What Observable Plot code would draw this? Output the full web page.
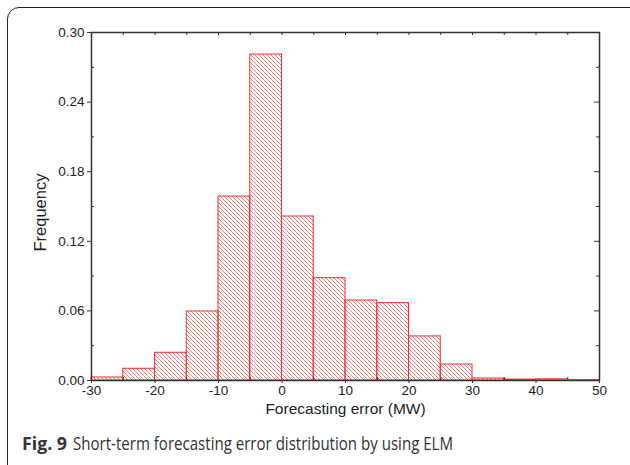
<!DOCTYPE html>
<html><head><meta charset="utf-8">
<script src="https://cdn.jsdelivr.net/npm/d3@7"></script>
<script src="https://cdn.jsdelivr.net/npm/@observablehq/plot@0.6"></script>
<style>
body{margin:0;background:#fff;}
#wrap{position:relative;width:630px;height:465px;overflow:hidden;}
#border{position:absolute;left:7px;top:7px;width:640px;height:480px;border:1.7px solid #222;border-radius:12px;}
#chart{position:absolute;left:0;top:0;}
#cap{position:absolute;left:0;top:422px;}
</style></head><body>
<div id="wrap"><div id="border"></div><div id="chart"></div>
<svg id="cap" width="630" height="40">
<text x="22" y="28" fill="#333" font-family="Open Sans, Noto Sans, sans-serif" font-size="18" font-weight="bold" textLength="45" lengthAdjust="spacingAndGlyphs">Fig. 9</text>
<text x="73" y="28" fill="#333" font-family="Open Sans, Noto Sans, sans-serif" font-size="18" textLength="380" lengthAdjust="spacingAndGlyphs">Short-term forecasting error distribution by using ELM</text>
</svg>
</div>
<script>
// Data
const binStart = [-30,-25,-20,-15,-10,-5,0,5,10,15,20,25,30,35,40,45];
const binWidth = 5;
const frequency = [0.0026,0.0101,0.0239,0.0595,0.1586,0.281,0.1414,0.0882,0.069,0.0667,0.038,0.0138,0.0017,0.0008,0.001,0.0003];
const xTicks = [-30,-20,-10,0,10,20,30,40,50];
const xMinor = [-25,-15,-5,5,15,25,35,45];
const yTicks = [0,0.06,0.12,0.18,0.24,0.30];
const yMinor = [0.03,0.09,0.15,0.21,0.27];
const xLabel = "Forecasting error (MW)";
const yLabel = "Frequency";

const bins = binStart.map((s,i)=>({x1:s, x2:s+binWidth, y:frequency[i]}));
const W=630,H=420,mL=91,mR=31,mT=32,mB=40;
const pw=W-mL-mR, ph=H-mT-mB;
const axisColor="#333";
const chart = Plot.plot({
  width:W,height:H,marginLeft:mL,marginRight:mR,marginTop:mT,marginBottom:mB,
  style:{fontFamily:"Liberation Sans, Arial, sans-serif",fontSize:"13.5px",color:"#222",background:"transparent",overflow:"visible"},
  x:{domain:[-30,50]},
  y:{domain:[0,0.30]},
  marks:[
    Plot.rectY(bins,{x1:"x1",x2:"x2",y:"y",fill:"url(#hatch)",stroke:"#ff2a2a",strokeWidth:1}),
    Plot.tickY(yMinor,{y:d=>d,insetRight:pw-3,stroke:axisColor}),
    Plot.tickY(yTicks,{y:d=>d,insetLeft:pw-5,stroke:axisColor}),
    Plot.tickY(yMinor,{y:d=>d,insetLeft:pw-3,stroke:axisColor}),
    Plot.tickX(xTicks.concat(xMinor),{x:d=>d,insetBottom:ph-3,stroke:axisColor}),
    Plot.tickX(xMinor,{x:d=>d,insetTop:ph-3,stroke:axisColor}),
    Plot.frame({stroke:axisColor,strokeWidth:1.5}),
    Plot.axisY(yTicks,{anchor:"left",tickSize:4,tickPadding:3,tickFormat:d=>d.toFixed(2),stroke:axisColor,label:null}),
    Plot.axisX(xTicks,{anchor:"bottom",tickSize:3,tickPadding:2,tickFormat:d=>String(d),stroke:axisColor,label:null}),
    Plot.text([xLabel],{text:d=>d,frameAnchor:"bottom",dy:33,fontSize:15.5,fill:"#222"}),
    Plot.text([yLabel],{text:d=>d,frameAnchor:"left",dx:-51,dy:45,rotate:-90,fontSize:16.5,fill:"#222"})
  ]
});
const ns="http://www.w3.org/2000/svg";
const defs=document.createElementNS(ns,"defs");
defs.innerHTML='<pattern id="hatch" patternUnits="userSpaceOnUse" width="4" height="4"><path d="M-1,3 L1,5 M0,0 L4,4 M3,-1 L5,1" stroke="#ff6a6a" stroke-width="0.9"/></pattern>';
chart.insertBefore(defs,chart.firstChild);
document.getElementById("chart").appendChild(chart);
</script>
</body></html>
